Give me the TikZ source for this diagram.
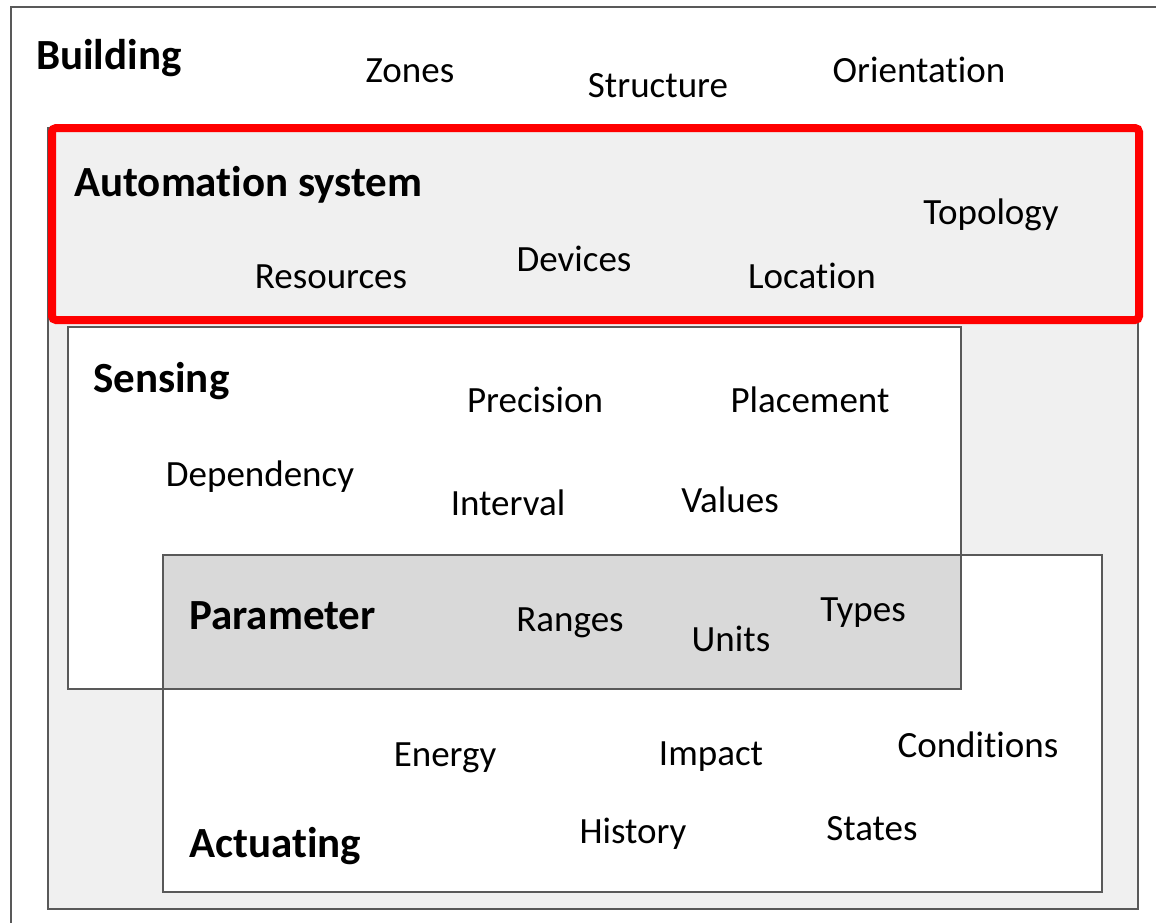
\documentclass[tikz,border=0pt]{standalone}
\usepackage{fontspec}
\setmainfont{Carlito}[Ligatures=NoCommon]
\begin{document}
\begin{tikzpicture}[x=1pt,y=-1pt,
  frame/.style={draw=black!65,line width=1.5pt},
  lbl/.style={anchor=base,inner sep=0pt,font=\fontsize{37}{40}\selectfont},
  ttl/.style={anchor=base west,inner sep=0pt,font=\fontsize{43}{46}\selectfont\bfseries}]
\clip (0,0) rectangle (1156,922);
\fill[white] (0,0) rectangle (1156,922);
% boxes
\draw[frame,fill=white] (11,7) rectangle (1170,940);
\draw[frame,fill=black!6] (48,128) rectangle (1138,909);
\draw[red,line width=8pt,fill=black!6,rounded corners=4pt] (52,128) rectangle (1139,320);
\draw[frame,fill=white] (163,555) rectangle (1102,892);
\draw[frame,fill=white] (68,327) rectangle (961,689);
\draw[frame,fill=black!15] (163,555) rectangle (961,689);
% titles
\node[ttl] (building) at (36,69) {Building};
\node[ttl] (automation) at (74,196) {Automation system};
\node[ttl] (sensing) at (93,392) {Sensing};
\node[ttl] (parameter) at (189,629) {Parameter};
\node[ttl] (actuating) at (189,857) {Actuating};
% labels
\node[lbl] (zones) at (410,82) {Zones};
\node[lbl] (structure) at (658,97) {Structure};
\node[lbl] (orientation) at (919,82) {Orientation};
\node[lbl] (topology) at (991,224) {Topology};
\node[lbl] (resources) at (331,288) {Resources};
\node[lbl] (devices) at (574,271) {Devices};
\node[lbl] (location) at (812,288) {Location};
\node[lbl] (precision) at (535,412) {Precision};
\node[lbl] (placement) at (810,412) {Placement};
\node[lbl] (dependency) at (260,486) {Dependency};
\node[lbl] (interval) at (508,515) {Interval};
\node[lbl] (values) at (730,512) {Values};
\node[lbl] (ranges) at (570,631) {Ranges};
\node[lbl] (units) at (731,651) {Units};
\node[lbl] (types) at (863,621) {Types};
\node[lbl] (energy) at (445,766) {Energy};
\node[lbl] (impact) at (711,765) {Impact};
\node[lbl] (conditions) at (978,757) {Conditions};
\node[lbl] (history) at (633,843) {History};
\node[lbl] (states) at (872,840) {States};
\end{tikzpicture}
\end{document}
